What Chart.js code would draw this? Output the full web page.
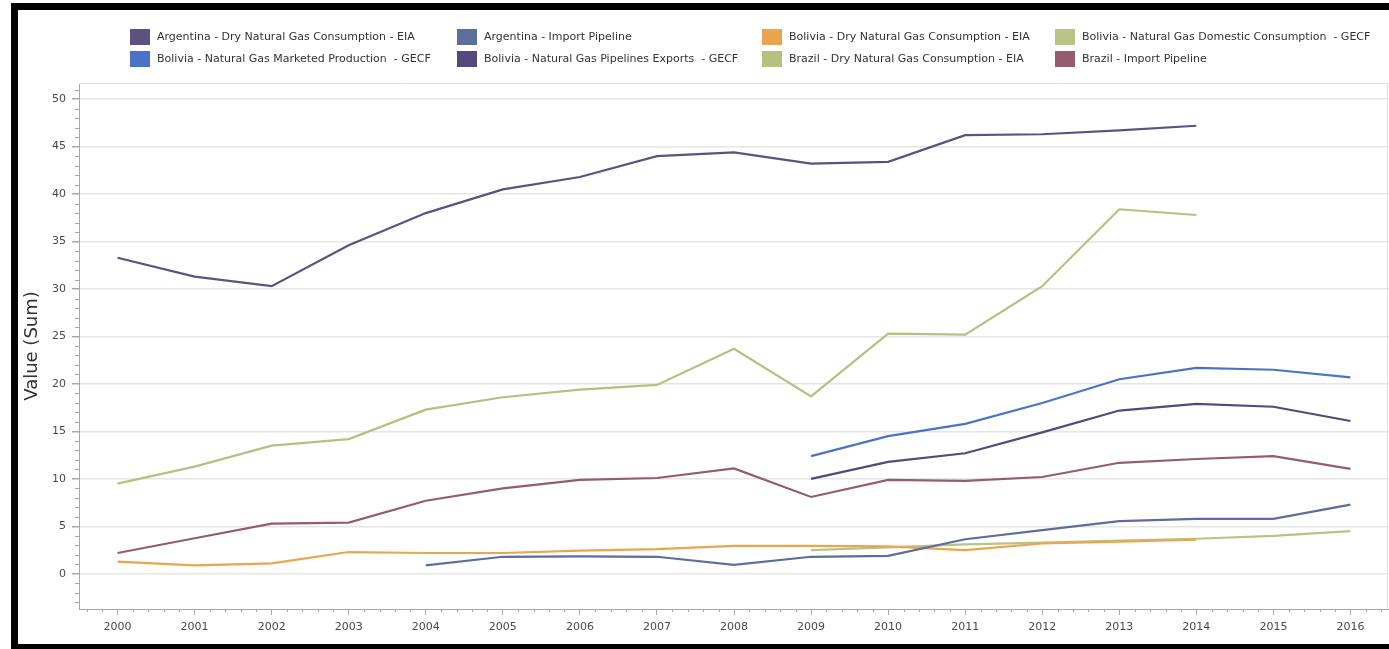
<!DOCTYPE html>
<html>
<head>
<meta charset="utf-8">
<script src="https://cdn.jsdelivr.net/npm/chart.js@4.4.1/dist/chart.umd.min.js"></script>
<style>
  body { margin: 0; width: 1389px; height: 649px; overflow: hidden; position: relative; background: #fff; font-family: "DejaVu Sans", sans-serif; }
  #frame { position: absolute; left: 11px; top: 3px; width: 1378px; height: 646px; box-sizing: border-box;
           border-left: 7px solid #000; border-top: 7px solid #000; border-bottom: 5px solid #000; }
  #wrap { position: absolute; left: 18px; top: 10px; width: 1371px; height: 634px; }
  .sw { position: absolute; width: 20px; height: 16px; }
  .lbl { position: absolute; font-size: 11px; line-height: 16px; color: #333; white-space: pre; }
</style>
</head>
<body>
<div id="frame"></div>
<div id="wrap"><canvas id="myCanvas"></canvas></div>
<div id="legend"></div>
<script>
// years on the x axis
const years = ["2000", "2001", "2002", "2003", "2004", "2005", "2006", "2007", "2008",
               "2009", "2010", "2011", "2012", "2013", "2014", "2015", "2016"];
const yTicks = [0, 5, 10, 15, 20, 25, 30, 35, 40, 45, 50];

const argDry = [33.3, 31.3, 30.3, 34.6, 38.0, 40.5, 41.8, 44.0, 44.4, 43.2, 43.4, 46.2, 46.3, 46.7, 47.2, null, null];
const argImport = [null, null, null, null, 0.9, 1.8, 1.85, 1.8, 0.95, 1.8, 1.9, 3.65, 4.6, 5.55, 5.8, 5.8, 7.3];
const bolDry = [1.3, 0.9, 1.1, 2.3, 2.2, 2.2, 2.45, 2.6, 2.95, 2.95, 2.9, 2.5, 3.2, 3.4, 3.6, null, null];
const bolDomestic = [null, null, null, null, null, null, null, null, null, 2.5, 2.8, 3.1, 3.3, 3.5, 3.7, 4.0, 4.5];
const bolMarketed = [null, null, null, null, null, null, null, null, null, 12.4, 14.5, 15.8, 18.0, 20.5, 21.7, 21.5, 20.7];
const bolExports = [null, null, null, null, null, null, null, null, null, 10.0, 11.8, 12.7, 14.9, 17.2, 17.9, 17.6, 16.1];
const brazilDry = [9.5, 11.3, 13.5, 14.2, 17.3, 18.6, 19.4, 19.9, 23.7, 18.7, 25.3, 25.2, 30.3, 38.4, 37.8, null, null];
const brazilImport = [2.2, 3.75, 5.3, 5.4, 7.7, 9.0, 9.9, 10.1, 11.1, 8.1, 9.9, 9.8, 10.2, 11.7, 12.1, 12.4, 11.05];

const series = [
  { label: "Argentina - Dry Natural Gas Consumption - EIA", data: argDry, color: "#5c5282" },
  { label: "Argentina - Import Pipeline", data: argImport, color: "#5b6e9c" },
  { label: "Bolivia - Dry Natural Gas Consumption - EIA", data: bolDry, color: "#eaa54e" },
  { label: "Bolivia - Natural Gas Domestic Consumption  - GECF", data: bolDomestic, color: "#b7c485" },
  { label: "Bolivia - Natural Gas Marketed Production  - GECF", data: bolMarketed, color: "#4c72c8" },
  { label: "Bolivia - Natural Gas Pipelines Exports  - GECF", data: bolExports, color: "#54497c" },
  { label: "Brazil - Dry Natural Gas Consumption - EIA", data: brazilDry, color: "#b4c181" },
  { label: "Brazil - Import Pipeline", data: brazilImport, color: "#955b6f" },
];

// legend laid out as a 4 x 2 grid like the original
const colX = [130, 457, 762, 1055];
const rowY = [29, 51];
const legend = document.getElementById("legend");
series.forEach((s, i) => {
  const sw = document.createElement("div");
  sw.className = "sw";
  sw.style.left = colX[i % 4] + "px";
  sw.style.top = rowY[Math.floor(i / 4)] + "px";
  sw.style.background = s.color;
  const t = document.createElement("div");
  t.className = "lbl";
  t.style.left = colX[i % 4] + 27 + "px";
  t.style.top = rowY[Math.floor(i / 4)] + "px";
  t.textContent = s.label;
  legend.appendChild(sw);
  legend.appendChild(t);
});

// small ticks between the labelled ones, plus the frame of the plot area
const minorTicks = {
  id: "minorTicks",
  afterDraw(chart) {
    const { ctx, chartArea, scales: { x, y } } = chart;
    ctx.save();
    ctx.strokeStyle = "#a8a8a8";
    ctx.lineWidth = 1;
    ctx.beginPath();
    for (let v = Math.ceil(y.min); v <= y.max; v++) {
      if (v % 5 === 0) continue;
      const py = Math.round(y.getPixelForValue(v)) + 0.5;
      ctx.moveTo(y.right - 4, py);
      ctx.lineTo(y.right, py);
    }
    const x0 = x.getPixelForValue(0);
    const step = (x.getPixelForValue(1) - x0) / 5;
    for (let i = -3; i <= years.length * 5 + 3; i++) {
      if (i % 5 === 0) continue;
      const px = Math.round(x0 + i * step) + 0.5;
      if (px < chartArea.left || px > chartArea.right) continue;
      ctx.moveTo(px, x.top);
      ctx.lineTo(px, x.top + 3);
    }
    ctx.stroke();
    ctx.strokeStyle = "#e0e0e0";
    ctx.beginPath();
    ctx.moveTo(chartArea.left, chartArea.top + 0.5);
    ctx.lineTo(chartArea.right, chartArea.top + 0.5);
    ctx.moveTo(chartArea.right - 1.5, chartArea.top);
    ctx.lineTo(chartArea.right - 1.5, chartArea.bottom);
    ctx.stroke();
    ctx.restore();
  },
};

const ctx = document.getElementById("myCanvas").getContext("2d");
new Chart(ctx, {
  type: "line",
  data: {
    labels: years,
    datasets: series.map((s) => ({
      label: s.label,
      data: s.data,
      borderColor: s.color,
      backgroundColor: s.color,
      borderWidth: 2.2,
      pointRadius: 0,
      tension: 0,
      fill: false,
    })),
  },
  options: {
    responsive: true,
    maintainAspectRatio: false,
    animation: false,
    layout: { padding: { top: 73, right: 0, left: 0, bottom: 0 } },
    plugins: { legend: { display: false }, tooltip: { enabled: false } },
    scales: {
      x: {
        offset: true,
        afterFit: (s) => { s.height = 35; },
        border: { color: "#a8a8a8" },
        grid: { drawOnChartArea: false, tickLength: 6, tickColor: "#a8a8a8" },
        ticks: { color: "#4a4a4a", font: { family: "DejaVu Sans", size: 11 }, padding: 6, maxRotation: 0, autoSkip: false },
      },
      y: {
        min: -3.7,
        max: 51.7,
        afterFit: (s) => { s.width = 61; },
        afterBuildTicks: (s) => { s.ticks = yTicks.map((v) => ({ value: v })); },
        border: { color: "#a8a8a8" },
        grid: { color: "#e6e6e6", lineWidth: 1.5, tickLength: 7, tickColor: "#a8a8a8" },
        ticks: { color: "#4a4a4a", font: { family: "DejaVu Sans", size: 11 }, padding: 6 },
        title: { display: true, text: "Value (Sum)", color: "#333", font: { family: "DejaVu Sans", size: 18 }, padding: { top: 4, bottom: 4 } },
      },
    },
  },
  plugins: [minorTicks],
});
</script>
</body>
</html>
